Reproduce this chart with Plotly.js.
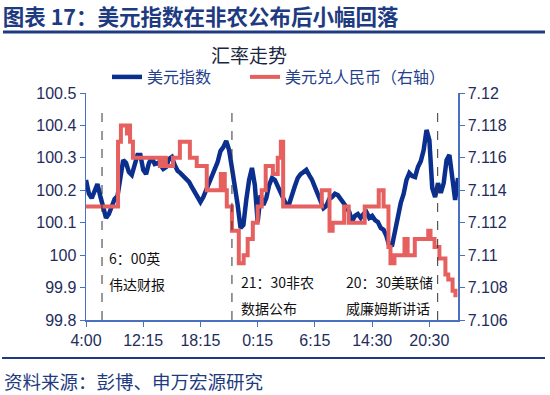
<!DOCTYPE html>
<html>
<head>
<meta charset="utf-8">
<script src="https://cdn.plot.ly/plotly-3.0.1.min.js"></script>
<style>html,body{margin:0;padding:0;background:#fff;}#chart{width:550px;height:395px;}</style>
</head>
<body>
<div id="chart"></div>
<script>
// ---- data ----
var xTickVals = [0, 20, 40, 60, 80, 100, 120];
var xTickText = ['4:00', '12:15', '18:15', '0:15', '6:15', '14:30', '20:30'];

var usdIndex = [
 100.232,100.19,100.176,100.198,100.219,100.182,100.152,100.115,100.127,100.155,
 100.173,100.182,100.232,100.293,100.284,100.256,100.247,100.278,100.309,100.309,
 100.263,100.25,100.284,100.30,100.281,100.284,100.278,100.266,100.272,100.297,
 100.303,100.278,100.26,100.253,100.244,100.235,100.226,100.21,100.195,100.176,
 100.164,100.179,100.201,100.219,100.247,100.269,100.287,100.321,100.333,100.352,
 100.324,100.269,100.216,100.155,100.084,100.093,100.17,100.232,100.269,100.216,
 100.102,100.185,100.155,100.176,100.216,100.238,100.232,100.213,100.201,100.182,
 100.155,100.158,100.189,100.213,100.238,100.25,100.256,100.263,100.247,100.232,
 100.21,100.185,100.161,100.145,100.152,100.173,100.179,100.189,100.185,100.17,
 100.161,100.148,100.133,100.105,100.121,100.127,100.115,100.127,100.133,100.115,
 100.121,100.108,100.102,100.084,100.078,100.059,100.028,100.031,100.078,100.121,
 100.161,100.189,100.232,100.253,100.244,100.241,100.272,100.29,100.324,100.386,
 100.355,100.207,100.179,100.222,100.192,100.222,100.293,100.309,100.232,100.17,
 100.238];

var cnyX = [0, 11.2, 12.2, 14.3, 14.8, 15.4, 16.4, 25.8, 26.9, 27.9, 30.4, 32.8, 36.3, 38.7,
 42.2, 47.1, 48.5, 49.2, 51.0, 53.4, 55.1, 56.5, 58.3, 60.0, 61.4, 62.8, 65.3, 67.0,
 68.1, 68.9, 82.4, 85.1, 86.2, 90.2, 91.8, 97.4, 102.3, 104.0, 105.7, 106.4, 107.8, 111.3,
 112.4, 114.9, 119.6, 120.4, 121.8, 123.5, 125.6, 126.6, 128.1, 129.1];
var cnyVal = [7.113, 7.117, 7.118, 7.1175, 7.118, 7.117, 7.116, 7.1155, 7.116, 7.1155, 7.116, 7.117, 7.116, 7.1155,
 7.114, 7.115, 7.114, 7.113, 7.1115, 7.1095, 7.110, 7.111, 7.112, 7.113, 7.114, 7.1155, 7.115, 7.116,
 7.117, 7.113, 7.114, 7.1115, 7.112, 7.113, 7.112, 7.113, 7.114, 7.113, 7.1105, 7.1095, 7.110, 7.111,
 7.110, 7.111, 7.1115, 7.111, 7.1105, 7.1098, 7.1088, 7.1085, 7.1078, 7.1074];

var leftTicks = [99.8, 99.9, 100, 100.1, 100.2, 100.3, 100.4, 100.5];
var leftTickText = ['99.8', '99.9', '100', '100.1', '100.2', '100.3', '100.4', '100.5'];
var rightTicks = [7.106, 7.108, 7.11, 7.112, 7.114, 7.116, 7.118, 7.12];
var rightTickText = ['7.106', '7.108', '7.11', '7.112', '7.114', '7.116', '7.118', '7.12'];

var eventX = [5.6, 51.0, 122.9];
var eventLine1 = ['6：00英', '21：30非农', '20：30美联储'];
var eventLine2 = ['伟达财报', '数据公布', '威廉姆斯讲话'];
var eventLabelX = [7.3, 53.4, 90.0];

// ---- layout helpers ----
var L = 86, R = 458, T = 93, B = 320;
function px(xp) { return (xp - L) / (R - L); }
function py(yp) { return (B - yp) / (B - T); }

var idx = usdIndex.map(function (_, i) { return i; });
var navy = '#1E3A80';
var tickCol = '#1F2D5C';
var axCol = '#4A70C0';
var numFont = 'Liberation Sans, Arial, sans-serif';
var cjkFont = 'Noto Sans CJK SC, sans-serif';

var traces = [
  { x: idx, y: usdIndex, name: '美元指数', type: 'scatter', mode: 'lines',
    line: { color: '#0B2F8E', width: 4.5 }, yaxis: 'y', legend: 'legend' },
  { x: cnyX, y: cnyVal, name: '美元兑人民币（右轴）', type: 'scatter', mode: 'lines',
    line: { color: '#E5605F', width: 4, shape: 'hv' }, yaxis: 'y2', legend: 'legend2' }
];

var shapes = [];
eventX.forEach(function (x) {
  shapes.push({ type: 'line', xref: 'x', yref: 'paper', x0: x, x1: x, y0: 0, y1: py(108),
    line: { color: '#333', width: 1, dash: 'dash' } });
});
shapes.push({ type: 'line', xref: 'paper', yref: 'paper', x0: px(3), x1: px(545), y0: py(32), y1: py(32),
  line: { color: navy, width: 3 } });
shapes.push({ type: 'line', xref: 'paper', yref: 'paper', x0: px(2), x1: px(545), y0: py(358), y1: py(358),
  line: { color: navy, width: 2 } });

var annotations = [];
for (var k = 0; k < eventX.length; k++) {
  annotations.push({ x: eventLabelX[k], y: py(k === 0 ? 258 : 282), xref: 'x', yref: 'paper',
    text: eventLine1[k], showarrow: false, xanchor: 'left', yanchor: 'middle',
    font: { family: cjkFont, size: 14, color: '#111' } });
  annotations.push({ x: eventLabelX[k], y: py(k === 0 ? 284 : 308), xref: 'x', yref: 'paper',
    text: eventLine2[k], showarrow: false, xanchor: 'left', yanchor: 'middle',
    font: { family: cjkFont, size: 14, color: '#111' } });
}
annotations.push({ x: px(249), y: py(54), xref: 'paper', yref: 'paper', text: '汇率走势',
  showarrow: false, xanchor: 'center', yanchor: 'middle',
  font: { family: cjkFont, size: 19, color: '#1A2740' } });
annotations.push({ x: px(2), y: py(381), xref: 'paper', yref: 'paper', text: '资料来源：彭博、申万宏源研究',
  showarrow: false, xanchor: 'left', yanchor: 'middle',
  font: { family: cjkFont, size: 18.5, color: navy } });

var legendFont = { family: cjkFont, size: 16, color: '#24408E' };

var layout = {
  width: 550, height: 395,
  margin: { l: L, r: 550 - R, t: T, b: 395 - B, pad: 0 },
  paper_bgcolor: '#fff', plot_bgcolor: '#fff',
  title: { text: '<b>图表 17：美元指数在非农公布后小幅回落</b>', xref: 'container', yref: 'container',
    x: 0.005, xanchor: 'left', y: 1 - 17 / 395, yanchor: 'middle',
    font: { family: cjkFont, size: 21.5, color: navy } },
  showlegend: true,
  legend: { orientation: 'h', x: px(107), y: py(77), xanchor: 'left', yanchor: 'middle',
    bgcolor: 'rgba(0,0,0,0)', font: legendFont },
  legend2: { orientation: 'h', x: px(245), y: py(77), xanchor: 'left', yanchor: 'middle',
    bgcolor: 'rgba(0,0,0,0)', font: legendFont },
  xaxis: { range: [0, 130], tickvals: xTickVals, ticktext: xTickText, showgrid: false, zeroline: false,
    showline: true, linecolor: axCol, linewidth: 1.5, ticks: 'outside', ticklen: 5, tickcolor: axCol,
    tickfont: { family: numFont, size: 16, color: tickCol } },
  yaxis: { range: [99.8, 100.5], tickvals: leftTicks, ticktext: leftTickText, showgrid: false, zeroline: false,
    showline: true, linecolor: axCol, linewidth: 1.5, ticks: 'outside', ticklen: 5, tickcolor: axCol,
    tickfont: { family: numFont, size: 16, color: tickCol } },
  yaxis2: { range: [7.106, 7.12], tickvals: rightTicks, ticktext: rightTickText, overlaying: 'y', side: 'right',
    showgrid: false, zeroline: false, showline: true, linecolor: axCol, linewidth: 1.5,
    ticks: 'outside', ticklen: 5, tickcolor: axCol,
    tickfont: { family: numFont, size: 16, color: tickCol } },
  shapes: shapes,
  annotations: annotations
};

Plotly.newPlot('chart', traces, layout, { displayModeBar: false, staticPlot: true });
</script>
</body>
</html>
